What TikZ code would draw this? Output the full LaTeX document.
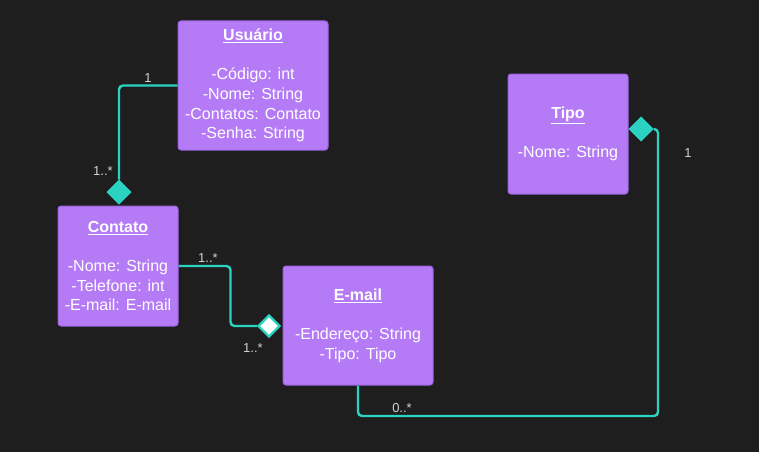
\documentclass[tikz,border=0pt]{standalone}
\usepackage{fontspec}
\setmainfont{Liberation Sans}
\usetikzlibrary{shapes.geometric}
\definecolor{bg}{HTML}{1E1E1E}
\definecolor{boxfill}{HTML}{B57BF6}
\definecolor{boxline}{HTML}{9A62E0}
\definecolor{teal}{HTML}{2BD2C1}
\definecolor{lbl}{HTML}{D2D2D2}
\tikzset{
  classbox/.style={draw=boxline, line width=1pt, fill=boxfill, rounded corners=3pt,
    text=white, align=center, inner sep=0pt, font=\fontsize{16}{19.6}\selectfont},
  conn/.style={draw=teal, line width=2.4pt, rounded corners=4pt},
  fdiam/.style={diamond, fill=teal, draw=teal, line width=1pt, minimum width=24pt, minimum height=24pt, inner sep=0pt},
  hdiam/.style={diamond, fill=white, draw=teal, line width=2.4pt, minimum width=22pt, minimum height=22pt, inner sep=0pt},
  mult/.style={text=lbl, font=\fontsize{13}{15}\selectfont, inner sep=0pt}
}
\newcommand{\ctitle}[1]{\underline{\textbf{#1}}}
\begin{document}
\begin{tikzpicture}[x=1pt,y=-1pt]
\fill[bg] (0,0) rectangle (759,452);
\useasboundingbox (0,0) rectangle (759,452);

\node[classbox, minimum width=150pt, minimum height=129pt] (usuario) at (253,85.5)
  {\ctitle{Usuário}\\[19.6pt]-Código: int\\-Nome: String\\-Contatos: Contato\\-Senha: String};
\node[classbox, minimum width=120pt, minimum height=120pt] (tipo) at (568,134)
  {\ctitle{Tipo}\\[19.6pt]-Nome: String};
\node[classbox, minimum width=120pt, minimum height=120pt] (contato) at (118,266)
  {\ctitle{Contato}\\[19.6pt]-Nome: String\\-Telefone: int\\-E-mail: E-mail};
\node[classbox, minimum width=150pt, minimum height=119pt] (email) at (358,325.5)
  {\ctitle{E-mail}\\[19.6pt]-Endereço: String\\-Tipo: Tipo};

\node[fdiam] (d1) at (119,192) {};
\node[hdiam] (d2) at (269,326) {};
\node[fdiam] (d3) at (641,129) {};
\coordinate (c1) at (658,416);

\draw[conn] (usuario.west) -| (d1.north);
\draw[conn] (contato.east) -- ++(52,0) |- (d2.west);
\draw[conn] (email.south) |- (c1) |- (d3.east);

\node[mult] (m1) at (148,78) {1};
\node[mult] (m2) at (103,171) {1..*};
\node[mult] (m3) at (208,258) {1..*};
\node[mult] (m4) at (253,348) {1..*};
\node[mult] (m5) at (402,408) {0..*};
\node[mult] (m6) at (688,153) {1};
\end{tikzpicture}
\end{document}
